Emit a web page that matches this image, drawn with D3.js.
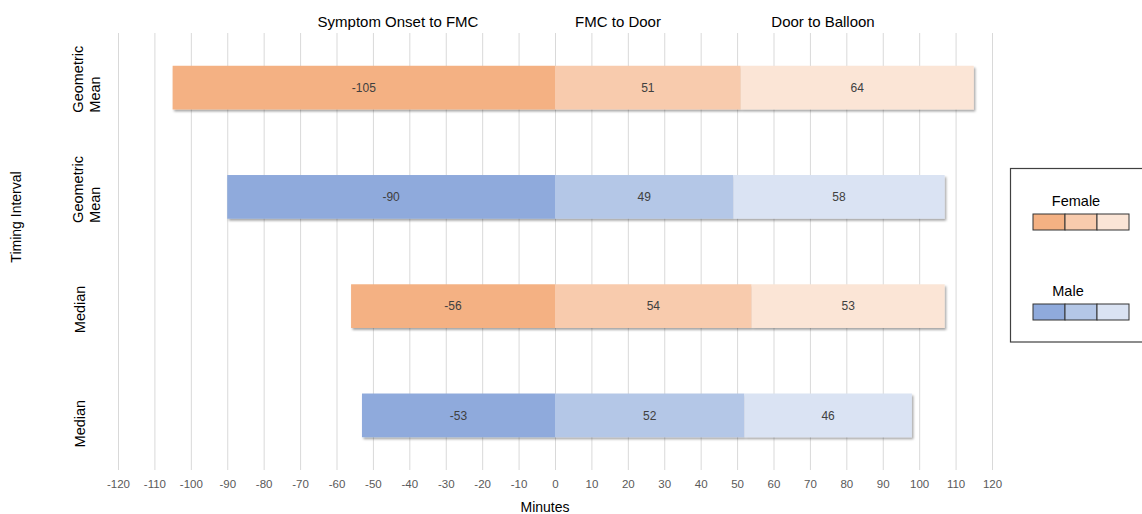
<!DOCTYPE html>
<html><head><meta charset="utf-8">
<script src="https://cdn.jsdelivr.net/npm/d3@7"></script>
<style>body{margin:0;background:#fff;} svg{display:block;font-family:"Liberation Sans",Arial,sans-serif;}</style>
</head><body>
<script>
const rowLabels = [["Geometric","Mean"],["Geometric","Mean"],["Median"],["Median"]];
const rowSex = ["Female","Male","Female","Male"];
const onsetToFMC = [-105, -90, -56, -53];
const fmcToDoor = [51, 49, 54, 52];
const doorToBalloon = [64, 58, 53, 46];
const segmentNames = ["Symptom Onset to FMC","FMC to Door","Door to Balloon"];
const xTicks = d3.range(-120, 121, 10);
const legendItems = ["Female","Male"];
const colors = {Female:["#F4B183","#F8CBAD","#FBE5D6"], Male:["#8FAADC","#B4C7E7","#DAE3F3"]};

const W=1142,H=514;
const svg=d3.select("body").append("svg").attr("width",W).attr("height",H);
const defs=svg.append("defs");
const f=defs.append("filter").attr("id","sh").attr("x","-5%").attr("y","-20%").attr("width","110%").attr("height","150%");
f.append("feDropShadow").attr("dx",1.5).attr("dy",2).attr("stdDeviation",1.2).attr("flood-color","#000").attr("flood-opacity",0.35);

const x=d3.scaleLinear().domain([-120,120]).range([118,992]);
const y=d3.scaleBand().domain(d3.range(4)).range([33,470]).paddingInner(0.6).paddingOuter(0.3);

// grid + axis
const ax=svg.append("g").attr("transform","translate(0,33)")
  .call(d3.axisBottom(x).tickValues(xTicks).tickSize(437).tickPadding(10).tickFormat(d=>String(d)));
ax.select(".domain").remove();
ax.selectAll(".tick line").attr("stroke","#d9d9d9");
ax.selectAll(".tick text").attr("fill","#595959").attr("font-size",11.5).attr("font-family","Liberation Sans, Arial, sans-serif");

// bars
const rows=d3.range(4).map(i=>{
  const segs=[];
  segs.push({x0:onsetToFMC[i],x1:0,v:onsetToFMC[i],k:0});
  segs.push({x0:0,x1:fmcToDoor[i],v:fmcToDoor[i],k:1});
  segs.push({x0:fmcToDoor[i],x1:fmcToDoor[i]+doorToBalloon[i],v:doorToBalloon[i],k:2});
  return {i,segs};
});
const rg=svg.selectAll("g.row").data(rows).join("g").attr("class","row");
rg.append("g").attr("filter","url(#sh)").selectAll("rect").data(d=>d.segs.map(s=>({...s,i:d.i})))
  .join("rect")
  .attr("x",s=>x(s.x0)).attr("width",s=>x(s.x1)-x(s.x0))
  .attr("y",s=>y(s.i)).attr("height",y.bandwidth())
  .attr("fill",s=>colors[rowSex[s.i]][s.k]);
rg.selectAll("text.v").data(d=>d.segs.map(s=>({...s,i:d.i}))).join("text").attr("class","v")
  .attr("x",s=>(x(s.x0)+x(s.x1))/2).attr("y",s=>y(s.i)+y.bandwidth()/2).attr("dy","0.35em")
  .attr("text-anchor","middle").attr("font-size",12).attr("fill","#404040").text(s=>s.v);

// headers
const headerX=[398,618,823];
svg.selectAll("text.h").data(segmentNames).join("text").attr("class","h")
  .attr("x",(d,i)=>headerX[i]).attr("y",27).attr("text-anchor","middle").attr("font-size",15).attr("fill","#000").text(d=>d);

// y labels (bottom-aligned)
const labelEndOff=[25,26,27,32];
d3.range(4).forEach(i=>{
  const cy=y(i)+y.bandwidth()/2;
  const lines=rowLabels[i];
  lines.forEach((l,j)=>{
    const bx = lines.length>1 ? (j===0?83:100) : 85;
    svg.append("text").attr("transform",`translate(${bx},${cy+labelEndOff[i]}) rotate(-90)`)
      .attr("text-anchor","start").attr("font-size",14.5).attr("fill","#000").text(l);
  });
});
svg.append("text").attr("transform","translate(21,217) rotate(-90)").attr("text-anchor","middle")
  .attr("font-size",14).attr("fill","#000").text("Timing Interval");
svg.append("text").attr("x",545).attr("y",512).attr("text-anchor","middle").attr("font-size",14).attr("fill","#000").text("Minutes");

// legend
const lg=svg.append("g");
lg.append("rect").attr("x",1010.5).attr("y",168.5).attr("width",140).attr("height",173.5).attr("fill","#fff").attr("stroke","#404040").attr("stroke-width",1.2);
const legY=[214,304], legTx=[1076,1068];
legendItems.forEach((s,n)=>{
  const yy=legY[n];
  lg.append("text").attr("x",legTx[n]).attr("y",yy-8).attr("text-anchor","middle").attr("font-size",14.5).attr("fill","#000").text(s);
  colors[s].forEach((c,k)=>lg.append("rect").attr("x",1033+k*32).attr("y",yy).attr("width",32).attr("height",16)
    .attr("fill",c).attr("stroke","#333").attr("stroke-width",1));
});
</script>
</body></html>
